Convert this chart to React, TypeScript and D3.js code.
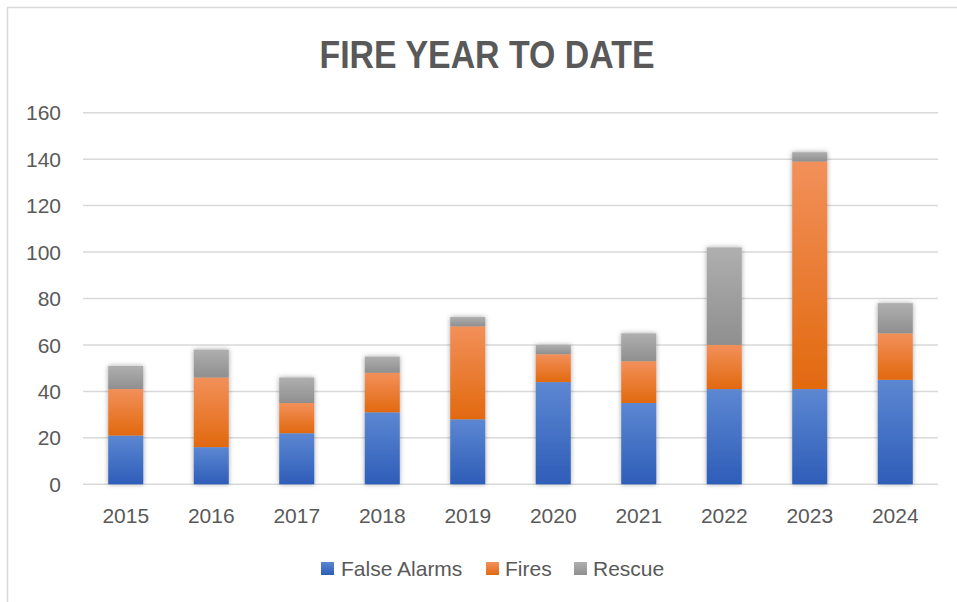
import React from "react";
import * as d3 from "d3";

const years = ["2015", "2016", "2017", "2018", "2019", "2020", "2021", "2022", "2023", "2024"];
const falseAlarms = [21, 16, 22, 31, 28, 44, 35, 41, 41, 45];
const fires = [20, 30, 13, 17, 40, 12, 18, 19, 98, 20];
const rescue = [10, 12, 11, 7, 4, 4, 12, 42, 4, 13];
const yTicks = [0, 20, 40, 60, 80, 100, 120, 140, 160];
const seriesNames = ["False Alarms", "Fires", "Rescue"];

const W = 957;
const H = 602;
const TEXT = "#595959";
const FONT = "'Liberation Sans', Arial, sans-serif";

const grads = [
  { id: "gBlue", top: "#5c87d2", bottom: "#2e5db8" },
  { id: "gOrange", top: "#f2905a", bottom: "#e2690f" },
  { id: "gGray", top: "#afafaf", bottom: "#8f8f8f" },
];

export default function App() {
  const x = d3.scaleBand<string>().domain(years).range([83, 938]).paddingInner(0.59).paddingOuter(0.295);
  const y = d3.scaleLinear().domain([0, 160]).range([484.3, 112.7]);

  const rows = years.map((yr, i) => ({ year: yr, a: falseAlarms[i], b: fires[i], c: rescue[i] }));
  const stack = d3.stack<any>().keys(["a", "b", "c"]);
  const layers = stack(rows);

  const legendItems = [
    { name: seriesNames[0], sq: 321, tx: 341, g: "gBlue" },
    { name: seriesNames[1], sq: 486, tx: 505, g: "gOrange" },
    { name: seriesNames[2], sq: 574, tx: 593, g: "gGray" },
  ];

  return (
    <svg width={W} height={H} style={{ position: "absolute", left: 0, top: 0, background: "#fff" }} fontFamily={FONT}>
      <defs>
        {grads.map((g) => (
          <linearGradient key={g.id} id={g.id} x1="0" y1="0" x2="0" y2="1">
            <stop offset="0" stopColor={g.top} />
            <stop offset="1" stopColor={g.bottom} />
          </linearGradient>
        ))}
        <filter id="shadow" x="-30%" y="-10%" width="160%" height="120%">
          <feDropShadow dx="0" dy="0" stdDeviation="2.5" floodColor="#000" floodOpacity="0.35" />
        </filter>
      </defs>
      <rect x={0} y={0} width={W} height={H} fill="#fff" />
      {/* chart border */}
      <path d={`M7.5,${H + 2} V7.5 H${W + 2}`} fill="none" stroke="#d9d9d9" strokeWidth={1.5} />

      {/* title */}
      <text x={487} y={68} textAnchor="middle" fontSize={39} fontWeight="bold" fill={TEXT} textLength={335} lengthAdjust="spacingAndGlyphs">
        FIRE YEAR TO DATE
      </text>

      {/* gridlines */}
      {yTicks.map((t) => (
        <line key={t} x1={83} x2={938} y1={y(t)} y2={y(t)} stroke="#d9d9d9" strokeWidth={1.5} />
      ))}
      {/* y labels */}
      {yTicks.map((t) => (
        <text key={"l" + t} x={61} y={y(t)} dy="0.36em" textAnchor="end" fontSize={21} fill={TEXT}>
          {t}
        </text>
      ))}

      {/* bars */}
      {rows.map((r, i) => (
        <g key={r.year} filter="url(#shadow)">
          {layers.map((layer, li) => {
            const d = layer[i];
            return (
              <rect
                key={li}
                x={x(r.year)}
                width={x.bandwidth()}
                y={y(d[1])}
                height={y(d[0]) - y(d[1])}
                fill={`url(#${grads[li].id})`}
              />
            );
          })}
        </g>
      ))}

      {/* x labels */}
      {years.map((yr) => (
        <text key={yr} x={(x(yr) as number) + x.bandwidth() / 2} y={523} textAnchor="middle" fontSize={21} fill={TEXT}>
          {yr}
        </text>
      ))}

      {/* legend */}
      {legendItems.map((l) => (
        <g key={l.name}>
          <rect x={l.sq} y={562} width={13} height={13} fill={`url(#${l.g})`} />
          <text x={l.tx} y={576} fontSize={21} fill={TEXT}>
            {l.name}
          </text>
        </g>
      ))}
    </svg>
  );
}
